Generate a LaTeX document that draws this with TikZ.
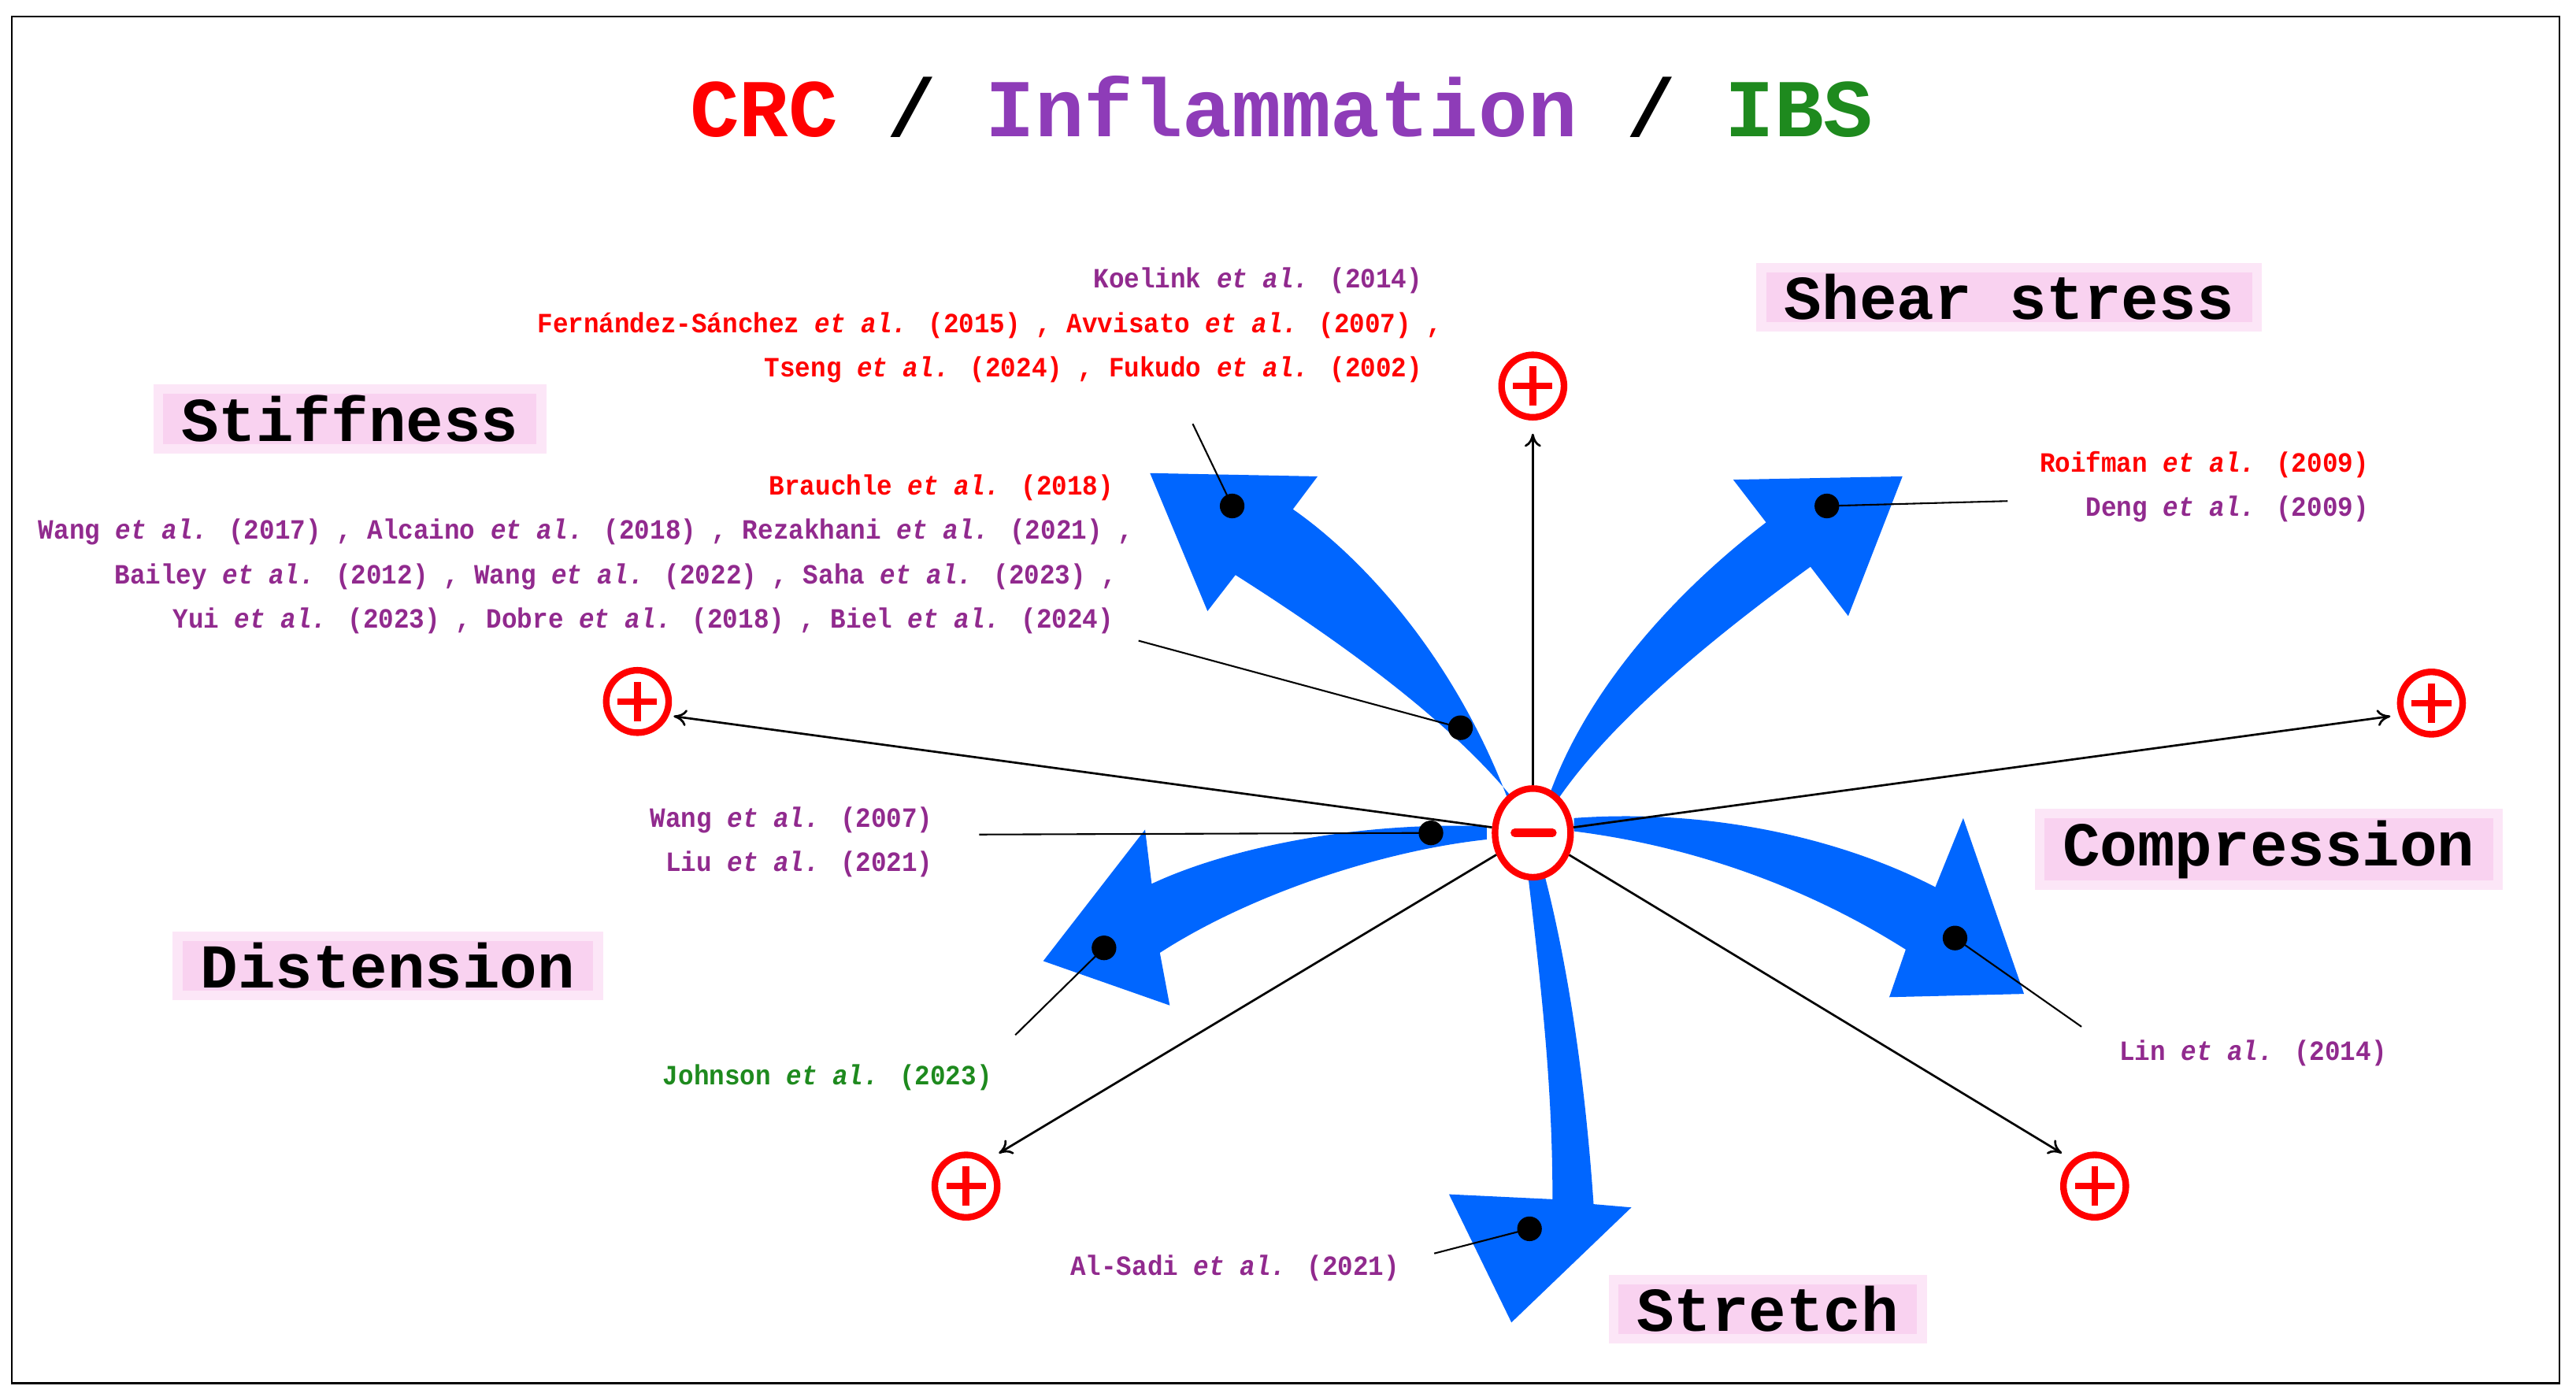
\documentclass[tikz,border=0pt]{standalone}
\usepackage{fontspec}
\setmainfont{Liberation Mono}
\newfontfamily\reffont{Liberation Mono}[FakeStretch=0.92]
\usetikzlibrary{arrows.meta,shapes.geometric}
\definecolor{pur}{HTML}{912A8E}
\definecolor{tpur}{HTML}{8E3CB8}
\definecolor{grn}{HTML}{1E8A1E}
\definecolor{blu}{HTML}{0066FF}
\definecolor{pink}{HTML}{F9D2F0}
\definecolor{pinkl}{HTML}{FCE6F7}
\newcommand{\eal}{\textit{et al.}}
\begin{document}
\begin{tikzpicture}[x=1pt,y=-1pt,
  ref/.style={font=\reffont\fontsize{17}{17}\selectfont\bfseries,anchor=east,inner sep=0pt},
  lab/.style={font=\fontsize{38}{38}\selectfont\bfseries,fill=pink,draw=pinkl,line width=6pt,inner xsep=14pt,inner ysep=4pt},
  ax/.style={line width=1.3pt,-{To[length=8pt,width=10pt]}},
  lead/.style={line width=1pt},
  dot/.style={circle,fill=black,inner sep=0pt,minimum size=15pt},
  arr/.style={fill=blu},
  plus/.style={circle,draw=red,line width=4pt,minimum size=38pt,inner sep=0pt}]
\useasboundingbox (0,0) rectangle (1568,850);
\fill[white] (0,0) rectangle (1568,850);
\draw[line width=1pt] (7,10) rectangle (1558,842);
% title
\node (title) at (780,65) {\fontsize{50}{50}\selectfont\bfseries\textcolor{red}{CRC} / \textcolor{tpur}{Inflammation} / \textcolor{grn}{IBS}};
% blue arrows
\path[arr] (918,487) .. controls (885,400) and (830,340) .. (787,310) -- (802,290) -- (700,288) -- (735,372) -- (752,350) .. controls (815,390) and (885,440) .. (924,490) -- cycle;
\path[arr] (942,487) .. controls (965,420) and (1020,360) .. (1075,318) -- (1055,292) -- (1158,290) -- (1125,375) -- (1102,345) .. controls (1040,390) and (980,440) .. (948,487) -- cycle;
\path[arr] (958,498) .. controls (1040,492) and (1120,510) .. (1178,540) -- (1195,498) -- (1232,605) -- (1150,607) -- (1160,578) .. controls (1100,540) and (1030,515) .. (958,506) -- cycle;
\path[arr] (905,503) .. controls (830,500) and (750,515) .. (701,538) -- (697,505) -- (635,585) -- (712,612) -- (706,580) .. controls (760,545) and (840,518) .. (905,511) -- cycle;
\path[arr] (930,532) .. controls (938,600) and (945,660) .. (945,730) -- (882,727) -- (920,805) -- (993,735) -- (970,733) .. controls (965,660) and (955,590) .. (940,532) -- cycle;
% center
\node[draw=red,line width=4pt,ellipse,minimum width=46pt,minimum height=54pt,inner sep=0pt,fill=white] (c) at (933,507) {};
\draw[red,line width=5pt,line cap=round] (922,507) -- (945,507);
% axis end points
\coordinate (eu) at (933,264);
\coordinate (el) at (410,436);
\coordinate (er) at (1455,436);
\coordinate (ebl) at (608,702);
\coordinate (ebr) at (1255,702);
\draw[ax] (c.north) -- (eu);
\draw[ax] (c) -- (el);
\draw[ax] (c) -- (er);
\draw[ax] (c) -- (ebl);
\draw[ax] (c) -- (ebr);
\foreach \n/\p in {pu/{(933,235)},pl/{(388,427)},pr/{(1480,428)},pbl/{(588,722)},pbr/{(1275,722)}}{
  \node[plus] (\n) at \p {};
  \draw[red,line width=4pt] ([xshift=-12pt]\n.center) -- ([xshift=12pt]\n.center) ([yshift=-12pt]\n.center) -- ([yshift=12pt]\n.center);
}
% labels
\node[lab] (shear) at (1223,181) {Shear stress};
\node[lab] (stiff) at (213,255) {Stiffness};
\node[lab] (comp) at (1381,517) {Compression};
\node[lab] (dist) at (236,588) {Distension};
\node[lab] (stre) at (1076,797) {Stretch};
% references
\node[ref,text=pur] (r1) at (866,171) {Koelink \eal{} (2014)};
\node[ref,text=red] (r2) at (878,198) {Fernández-Sánchez \eal{} (2015) , Avvisato \eal{} (2007) ,};
\node[ref,text=red] (r3) at (866,225) {Tseng \eal{} (2024) , Fukudo \eal{} (2002)};
\node[ref,text=red] (r4) at (678,297) {Brauchle \eal{} (2018)};
\node[ref,text=pur] (r5) at (690,324) {Wang \eal{} (2017) , Alcaino \eal{} (2018) , Rezakhani \eal{} (2021) ,};
\node[ref,text=pur] (r6) at (680,351) {Bailey \eal{} (2012) , Wang \eal{} (2022) , Saha \eal{} (2023) ,};
\node[ref,text=pur] (r7) at (678,378) {Yui \eal{} (2023) , Dobre \eal{} (2018) , Biel \eal{} (2024)};
\node[ref,text=red] (r8) at (1442,283) {Roifman \eal{} (2009)};
\node[ref,text=pur] (r9) at (1442,310) {Deng \eal{} (2009)};
\node[ref,text=pur] (r10) at (568,499) {Wang \eal{} (2007)};
\node[ref,text=pur] (r11) at (568,526) {Liu \eal{} (2021)};
\node[ref,text=grn] (r12) at (604,656) {Johnson \eal{} (2023)};
\node[ref,text=pur] (r13) at (1453,641) {Lin \eal{} (2014)};
\node[ref,text=pur] (r14) at (852,772) {Al-Sadi \eal{} (2021)};
% dots and leaders
\node[dot] (d1) at (750,308) {};
\node[dot] (d2) at (1112,308) {};
\node[dot] (d3) at (889,443) {};
\node[dot] (d4) at (871,507) {};
\node[dot] (d5) at (672,577) {};
\node[dot] (d6) at (1190,571) {};
\node[dot] (d7) at (931,748) {};
\coordinate (l1) at (726,258);
\coordinate (l2) at (1222,305);
\coordinate (l3) at (693,390);
\coordinate (l4) at (596,508);
\coordinate (l5) at (618,630);
\coordinate (l6) at (1267,625);
\coordinate (l7) at (873,763);
\draw[lead] (d1.center) -- (l1);
\draw[lead] (d2.center) -- (l2);
\draw[lead] (d3.center) -- (l3);
\draw[lead] (d4.center) -- (l4);
\draw[lead] (d5.center) -- (l5);
\draw[lead] (d6.center) -- (l6);
\draw[lead] (d7.center) -- (l7);
\end{tikzpicture}
\end{document}
